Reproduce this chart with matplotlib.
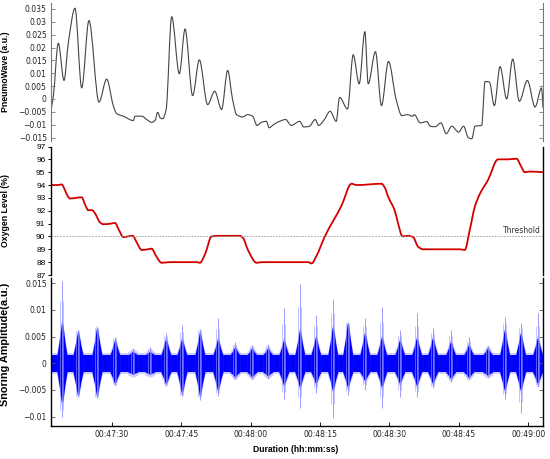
import matplotlib
matplotlib.use("Agg")
import matplotlib.pyplot as plt
from matplotlib.path import Path
from matplotlib.patches import PathPatch
import numpy as np

# ---------------- data ----------------
# time in seconds after 00:47:00
x_limits = [16.8, 123.2]
x_ticks = [30, 45, 60, 75, 90, 105, 120]
x_tick_labels = ["00:47:30", "00:47:45", "00:48:00", "00:48:15", "00:48:30", "00:48:45", "00:49:00"]

# PneumoWave (a.u.)
pneumo_t = [16.80, 17.30, 18.38, 19.61, 20.54, 21.99, 23.44, 25.01, 27.18, 28.84, 30.27, 31.00,
            32.44, 34.60, 34.97, 36.42, 37.50, 38.58, 39.29, 39.87, 40.45, 40.95, 41.69, 42.90,
            44.56, 45.79, 47.43, 48.88, 50.68, 52.19, 53.70, 55.00, 56.08, 56.94, 58.24, 59.32,
            60.40, 61.35, 62.30, 63.38, 63.96, 64.93, 66.23, 67.53, 68.76, 70.55, 71.48, 72.70,
            73.94, 74.66, 75.74, 77.18, 78.48, 79.21, 80.93, 82.15, 83.45, 84.67, 85.40, 86.97,
            88.27, 89.78, 91.45, 92.68, 93.77, 95.06, 95.36, 96.66, 98.09, 98.82, 99.90, 101.11,
            102.28, 103.49, 104.94, 106.02, 107.07, 107.79, 108.51, 109.94, 110.67, 111.60, 112.68,
            113.91, 115.35, 116.64, 118.09, 119.82, 121.48, 122.90, 123.20]
pneumo_v = [-0.0042, 0.0010, 0.0217, 0.0072, 0.0217, 0.0353, 0.0043, 0.0305, -0.0012, 0.0077,
            -0.0026, -0.0057, -0.0067, -0.0084, -0.0067, -0.0067, -0.0080, -0.0091, -0.0084,
            -0.0052, -0.0074, -0.0077, -0.0042, 0.0320, 0.0098, 0.0272, 0.0013, 0.0152, -0.0022,
            0.0030, -0.0041, 0.0111, -0.0003, -0.0061, -0.0070, -0.0061, -0.0067, -0.0103, -0.0091,
            -0.0087, -0.0112, -0.0100, -0.0087, -0.0080, -0.0103, -0.0087, -0.0109, -0.0106,
            -0.0080, -0.0103, -0.0085, -0.0048, -0.0087, 0.0006, -0.0039, 0.0172, 0.0059, 0.0262,
            0.0059, 0.0184, -0.0026, 0.0146, -0.0003, -0.0065, -0.0061, -0.0067, -0.0061, -0.0093,
            -0.0088, -0.0106, -0.0108, -0.0093, -0.0135, -0.0106, -0.0129, -0.0106, -0.0151,
            -0.0155, -0.0106, -0.0103, 0.0068, 0.0066, -0.0026, 0.0126, 0.0000, 0.0155, -0.0009,
            0.0072, -0.0031, 0.0043, -0.0035]

# Oxygen level (%)
oxy_t = [16.80, 18.31, 19.11, 19.83, 20.47, 20.91, 22.20, 23.44, 24.15, 24.86, 25.66, 26.31,
         27.39, 28.10, 29.77, 30.63, 31.50, 32.43, 33.44, 34.46, 35.39, 36.40, 37.77, 38.57,
         39.49, 40.73, 42.52, 48.29, 49.00, 50.09, 51.53, 52.90, 57.65, 58.30, 59.45, 61.26,
         62.41, 72.41, 73.15, 74.23, 76.02, 79.63, 81.79, 82.87, 88.28, 88.99, 89.70, 91.15,
         91.87, 92.82, 94.03, 95.11, 96.19, 97.27, 105.20, 106.28, 107.36, 108.45, 109.53,
         111.32, 113.48, 115.64, 117.46, 118.54, 119.25, 120.33, 123.20]
oxy_v = [94.0, 94.0, 94.05, 93.6, 93.1, 92.95, 93.0, 93.05, 92.5, 92.04, 92.05, 91.8,
         91.1, 90.95, 91.0, 91.05, 90.5, 89.95, 90.0, 90.05, 89.5, 88.95, 89.0, 89.05,
         88.5, 87.95, 88.0, 88.0, 87.95, 88.6, 90.0, 90.05, 90.05, 89.9, 88.9, 87.95,
         88.0, 88.0, 87.9, 88.5, 90.0, 92.4, 94.1, 94.0, 94.1, 93.8, 93.1, 92.0,
         91.0, 90.0, 90.05, 89.95, 89.2, 89.0, 89.0, 88.95, 90.5, 92.3, 93.3,
         94.4, 96.0, 96.0, 96.05, 95.4, 95.0, 95.05, 95.0]
threshold = 90

# Snoring amplitude (a.u.): burst centres and amplitudes
burst_t = [19.18, 22.64, 26.74, 30.63, 34.52, 38.20, 41.65, 45.11, 49.00, 52.89, 56.57, 60.24,
           63.70, 67.15, 70.61, 74.07, 77.74, 80.98, 84.66, 88.33, 92.22, 95.89, 99.35, 103.24,
           107.13, 111.24, 114.91, 118.37, 122.04]
burst_up = [0.0077, 0.0059, 0.0066, 0.0043, 0.0022, 0.0022, 0.0045, 0.0045, 0.0058, 0.0045,
            0.0030, 0.0028, 0.0028, 0.0043, 0.0062, 0.0049, 0.0068, 0.0075, 0.0056, 0.0049,
            0.0043, 0.0047, 0.0047, 0.0040, 0.0034, 0.0028, 0.0062, 0.0056, 0.0047]
burst_lo = [-0.0075, -0.0060, -0.0060, -0.0037, -0.0020, -0.0020, -0.0038, -0.0056, -0.0060,
            -0.0050, -0.0025, -0.0025, -0.0023, -0.0040, -0.0044, -0.0037, -0.0050, -0.0044,
            -0.0032, -0.0044, -0.0037, -0.0041, -0.0037, -0.0028, -0.0026, -0.0022, -0.0050,
            -0.0050, -0.0037]
spike_up = [0.0155, 0.0062, 0.0068, 0.0050, 0.0028, 0.0030, 0.0056, 0.0071, 0.0065, 0.0084,
            0.0040, 0.0034, 0.0036, 0.0103, 0.0149, 0.0090, 0.0121, 0.0075, 0.0084, 0.0105,
            0.0062, 0.0094, 0.0066, 0.0062, 0.0049, 0.0032, 0.0087, 0.0075, 0.0094]
spike_lo = [-0.0100, -0.0062, -0.0065, -0.0040, -0.0022, -0.0022, -0.0040, -0.0062, -0.0068,
            -0.0062, -0.0030, -0.0030, -0.0030, -0.0066, -0.0084, -0.0056, -0.0103, -0.0060,
            -0.0050, -0.0084, -0.0063, -0.0063, -0.0047, -0.0035, -0.0030, -0.0026, -0.0066,
            -0.0094, -0.0045]
base_band = [-0.0016, 0.0015]


# ---------------- helpers ----------------
def smooth_path(xs, ys):
    """Monotone cubic Bezier path through the read points."""
    x = np.asarray(xs, float)
    y = np.asarray(ys, float)
    h = np.diff(x)
    d = np.diff(y) / h
    m = np.zeros_like(y)
    m[0], m[-1] = d[0], d[-1]
    for i in range(1, len(y) - 1):
        if d[i - 1] * d[i] > 0:
            w1 = 2 * h[i] + h[i - 1]
            w2 = h[i] + 2 * h[i - 1]
            m[i] = (w1 + w2) / (w1 / d[i - 1] + w2 / d[i])
    verts = [(x[0], y[0])]
    codes = [Path.MOVETO]
    for i in range(len(x) - 1):
        verts += [(x[i] + h[i] / 3, y[i] + m[i] * h[i] / 3),
                  (x[i + 1] - h[i] / 3, y[i + 1] - m[i + 1] * h[i] / 3),
                  (x[i + 1], y[i + 1])]
        codes += [Path.CURVE4] * 3
    return Path(verts, codes)


# ---------------- figure ----------------
W, H = 550, 459
fig = plt.figure(figsize=(W / 100, H / 100), dpi=100)


def fx(px):
    return px / W


def fy(py):
    return 1 - py / H


left, right = 51, 543
ax1 = fig.add_axes([fx(left), fy(140.5), fx(right - left), (140.5 - 3) / H])
ax2 = fig.add_axes([fx(left), fy(275), fx(right - left), (275 - 146.5) / H])
ax3 = fig.add_axes([fx(left), fy(425.5), fx(right - left), (425.5 - 278) / H])

tick_font = dict(family="DejaVu Sans", size=5.5)
label_font = dict(family="Liberation Sans", weight="bold")

# --- top panel ---
ax1.add_patch(PathPatch(smooth_path(pneumo_t, pneumo_v), fill=False,
                        edgecolor="#444444", lw=0.8))
ax1.set_xlim(*x_limits)
ax1.set_ylim(-0.01616, 0.03733)
yt1 = [-0.015, -0.01, -0.005, 0, 0.005, 0.01, 0.015, 0.02, 0.025, 0.03, 0.035]
ax1.set_yticks(yt1)
ax1.set_yticklabels(["\u22120.015", "\u22120.01", "\u22120.005", "0", "0.005", "0.01",
                     "0.015", "0.02", "0.025", "0.03", "0.035"], **tick_font)
ax1.set_xticks([])
for s in ["top", "bottom"]:
    ax1.spines[s].set_visible(False)
for s in ["left", "right"]:
    ax1.spines[s].set_color("#777777")
    ax1.spines[s].set_linewidth(0.8)
ax1.tick_params(axis="y", direction="in", length=3, width=0.6, color="#777777",
                right=True, pad=3, labelcolor="#222222")
ax1.set_ylabel("PneumoWave (a.u.)", fontsize=6.3, **label_font)
ax1.yaxis.set_label_coords(-0.083, 0.5)

# --- middle panel ---
ax2.add_patch(PathPatch(smooth_path(oxy_t, oxy_v), fill=False,
                        edgecolor="#d40000", lw=1.3))
ax2.axhline(threshold, color="#999999", lw=0.6, ls=(0, (2, 1.5)))
ax2.text(122.8, threshold + 0.15, "Threshold", ha="right", va="bottom",
         fontsize=5.5, family="DejaVu Sans", color="#333333")
ax2.set_xlim(*x_limits)
ax2.set_ylim(87, 97)
ax2.set_yticks(range(87, 98))
ax2.set_yticklabels([str(v) for v in range(87, 98)], family="Liberation Sans", size=6.0)
ax2.set_xticks([])
for s in ["top", "bottom"]:
    ax2.spines[s].set_visible(False)
for s in ["left", "right"]:
    ax2.spines[s].set_color("black")
    ax2.spines[s].set_linewidth(1.0)
ax2.tick_params(axis="y", direction="out", length=2, width=0.7, pad=2)
ax2.set_ylabel("Oxygen Level (%)", fontsize=6.3, **label_font)
ax2.yaxis.set_label_coords(-0.083, 0.5)

# --- bottom panel ---
blue = "#0000ff"
light = "#7474ff"
ax3.fill_between(x_limits, [base_band[0] - 0.0004] * 2, [base_band[1] + 0.0004] * 2,
                 color=light, alpha=0.35, lw=0)
ax3.fill_between(x_limits, [base_band[0]] * 2, [base_band[1]] * 2, color=blue, lw=0)
ax3.vlines(burst_t, spike_lo, spike_up, color="#8a8aff", lw=0.6)
for c, up, lo, su, sl in zip(burst_t, burst_up, burst_lo, spike_up, spike_lo):
    w = 1.1
    xs = [c - w, c - 0.45 * w, c - 0.1 * w, c + 0.2 * w, c + 0.55 * w, c + w]
    fu = [0.0, 0.55, 1.0, 0.9, 0.45, 0.0]
    ups = [base_band[1] + f * (up - base_band[1]) for f in fu]
    los = [base_band[0] + f * (lo - base_band[0]) for f in fu]
    ax3.fill_between(xs, [l - 0.0006 for l in los], [u + 0.0006 for u in ups],
                     color=light, alpha=0.35, lw=0)
    ax3.fill_between(xs, los, ups, color=blue, lw=0)
    # finer strands of the burst
    ax3.vlines([c - 0.35, c + 0.3], [0.5 * (lo + sl)] * 2, [0.5 * (up + su)] * 2,
               color="#9a9aff", lw=0.4)
ax3.set_xlim(*x_limits)
ax3.set_ylim(-0.01165, 0.01597)
yt3 = [-0.01, -0.005, 0, 0.005, 0.01, 0.015]
ax3.set_yticks(yt3)
ax3.set_yticklabels(["\u22120.01", "\u22120.005", "0", "0.005", "0.01", "0.015"], **tick_font)
ax3.set_xticks(x_ticks)
ax3.set_xticklabels(x_tick_labels, **tick_font)
ax3.spines["top"].set_visible(False)
for s in ["left", "right", "bottom"]:
    ax3.spines[s].set_color("black")
    ax3.spines[s].set_linewidth(1.0)
ax3.tick_params(axis="y", direction="in", length=3, width=0.6, right=True, pad=3,
                color="#555555", labelcolor="#222222")
ax3.tick_params(axis="x", direction="in", length=3, width=0.6, pad=3, labelcolor="#222222")
ax3.set_ylabel("Snoring Amplitude(a.u.)", fontsize=7.8, **label_font)
ax3.yaxis.set_label_coords(-0.083, 0.55)
fig.text(fx(296), fy(450), "Duration (hh:mm:ss)", ha="center", va="center",
         fontsize=6.2, **label_font)

fig.savefig("out.png", dpi=100)
